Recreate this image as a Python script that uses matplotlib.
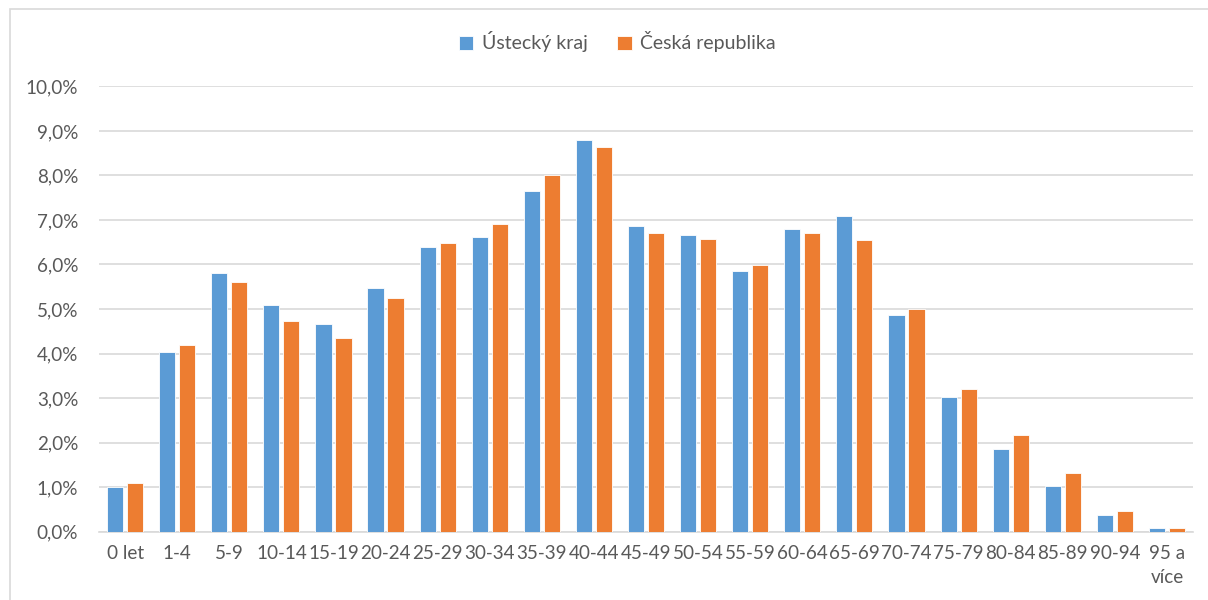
import matplotlib
matplotlib.use("Agg")
import matplotlib.pyplot as plt
import numpy as np
from matplotlib.patches import Rectangle
from matplotlib.ticker import FuncFormatter

plt.rcParams['font.family'] = ['Lato', 'DejaVu Sans']

# age groups and shares (%)
groups = ['0 let', '1-4', '5-9', '10-14', '15-19', '20-24', '25-29', '30-34',
          '35-39', '40-44', '45-49', '50-54', '55-59', '60-64', '65-69',
          '70-74', '75-79', '80-84', '85-89', '90-94', '95 a\nvíce']
ustecky = [1.00, 4.04, 5.80, 5.09, 4.67, 5.47, 6.40, 6.61, 7.64, 8.79, 6.86,
           6.67, 5.86, 6.79, 7.10, 4.87, 3.03, 1.86, 1.03, 0.37, 0.07]
cr = [1.09, 4.19, 5.60, 4.73, 4.34, 5.24, 6.49, 6.91, 8.00, 8.65, 6.71,
      6.58, 5.98, 6.71, 6.55, 5.01, 3.20, 2.16, 1.32, 0.46, 0.07]

blue = '#5B9BD5'
orange = '#ED7D31'
txt = '#595959'
grid = '#D9D9D9'

fig = plt.figure(figsize=(12.08, 6), dpi=100)
ax = fig.add_axes([0.082, 0.114, 0.9056, 0.742])

x = np.arange(len(groups))
w = 0.31
off = 0.192
ax.bar(x - off, ustecky, w, color=blue, edgecolor='white', lw=0.6, label='Ústecký kraj', zorder=3)
ax.bar(x + off, cr, w, color=orange, edgecolor='white', lw=0.6, label='Česká republika', zorder=3)

ax.set_xlim(-0.5, len(groups) - 0.5)
ax.set_ylim(0, 10)
ax.set_yticks(np.arange(0, 11, 1))
ax.yaxis.set_major_formatter(FuncFormatter(lambda v, p: ('%.1f%%' % v).replace('.', ',')))
ax.set_xticks(x)
ax.set_xticklabels(groups, linespacing=1.45)
ax.tick_params(axis='both', length=0, colors=txt, labelsize=13.6)
ax.tick_params(axis='y', pad=15)
ax.tick_params(axis='x', pad=10)
ax.grid(axis='y', color=grid, lw=1.2, zorder=0)
for s in ['top', 'right', 'left']:
    ax.spines[s].set_visible(False)
ax.spines['bottom'].set_color(grid)
ax.spines['bottom'].set_linewidth(1.2)

leg = fig.legend(loc='center', bbox_to_anchor=(0.511, 0.93), ncol=2, frameon=False,
                 fontsize=14, handlelength=0.75, handleheight=0.75,
                 handletextpad=0.45, columnspacing=1.5)
for t in leg.get_texts():
    t.set_color(txt)

fig.patches.append(Rectangle((10 / 1208, -0.01), 1.0, 1 - 9 / 600 + 0.01,
                             transform=fig.transFigure, fill=False,
                             edgecolor=grid, lw=1.2))

fig.savefig('out.png', dpi=100)
